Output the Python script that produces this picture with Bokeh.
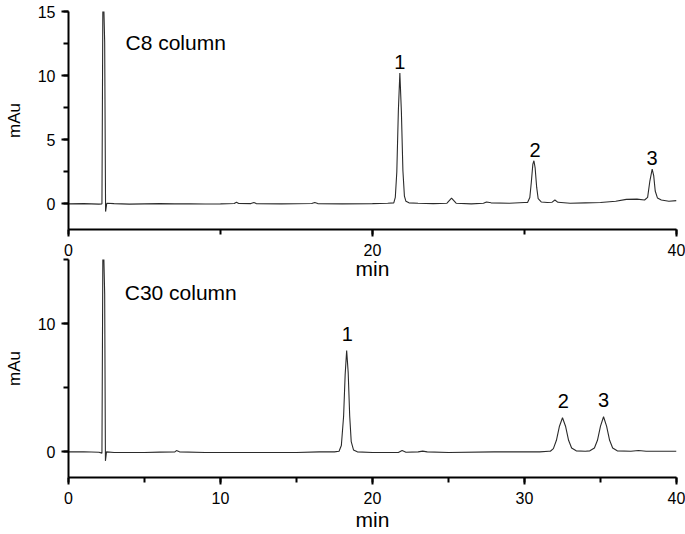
from bokeh.plotting import figure
from bokeh.layouts import column
from bokeh.models import Range1d, SingleIntervalTicker, Label, ColumnDataSource
from bokeh.embed import file_html
from bokeh.resources import INLINE
from bokeh.core.properties import value

# ---- C8 column trace (time in min, signal in mAu) ----
c8_time = [0.0, 1.0, 2.0, 2.2, 2.27, 2.38, 2.44, 2.52, 3.0, 4.0, 5.0, 6.0, 7.0, 8.0, 9.0, 10.0,
           10.9, 11.05, 11.2, 12.0, 12.2, 12.35, 14.0, 16.0, 16.2, 16.4, 18.0, 20.0, 21.0,
           21.4, 21.5, 21.6, 21.7, 21.8, 21.9, 22.0, 22.1, 22.2, 22.4,
           23.0, 24.0, 24.9, 25.2, 25.5, 26.5, 27.3, 27.5, 27.8, 29.0, 30.0,
           30.2, 30.35, 30.45, 30.55, 30.62, 30.7, 30.8, 30.9, 31.1,
           31.5, 31.8, 32.0, 32.2, 33.0, 34.0, 35.0, 36.0, 36.7, 37.4, 37.9,
           38.1, 38.25, 38.4, 38.5, 38.6, 38.75, 39.0, 39.5, 40.0]
c8_signal = [0.0, 0.02, -0.02, 0.0, 18.0, 12.6, -0.6, 0.05, 0.02, -0.02, 0.0, 0.02, 0.0, 0.01, -0.01, 0.0,
             0.03, 0.12, 0.03, 0.02, 0.1, 0.02, 0.0, 0.03, 0.1, 0.02, 0.0, 0.02, 0.05,
             0.08, 0.5, 2.5, 7.2, 10.2, 7.2, 2.6, 0.6, 0.2, 0.08,
             0.05, 0.02, 0.05, 0.45, 0.05, 0.0, 0.05, 0.15, 0.08, 0.05, 0.1,
             0.1, 0.5, 1.7, 3.1, 3.36, 2.8, 1.3, 0.4, 0.15,
             0.1, 0.12, 0.3, 0.12, 0.05, 0.08, 0.1, 0.2, 0.35, 0.37, 0.3,
             0.5, 1.8, 2.7, 2.2, 1.0, 0.45, 0.3, 0.2, 0.25]

# ---- C30 column trace ----
c30_time = [0.0, 1.0, 2.0, 2.2, 2.27, 2.38, 2.43, 2.5, 3.0, 4.0, 5.0, 6.0, 7.0, 7.1, 7.3, 9.0, 12.0,
            15.0, 16.5, 17.5,
            17.8, 17.95, 18.1, 18.2, 18.3, 18.4, 18.5, 18.6, 18.75, 19.0,
            20.0, 21.7, 21.95, 22.2, 23.0, 23.3, 23.6, 25.0, 28.0, 31.0, 31.6,
            31.7, 31.9, 32.1, 32.3, 32.5, 32.7, 32.9, 33.1, 33.4, 34.0,
            34.3, 34.6, 34.8, 35.0, 35.2, 35.4, 35.6, 35.8, 36.1, 37.0, 37.5, 38.0, 40.0]
c30_signal = [0.0, 0.01, -0.03, -0.1, 18.0, 12.3, -0.7, 0.0, -0.05, -0.05, -0.05, -0.02, 0.0, 0.1, 0.0, -0.05, -0.05,
              -0.05, 0.0, 0.0,
              0.05, 0.5, 2.8, 6.0, 7.9, 6.2, 2.8, 0.8, 0.15, 0.0,
              -0.05, -0.05, 0.1, -0.03, 0.0, 0.06, 0.0, -0.05, 0.0, 0.0, 0.05,
              0.05, 0.25, 0.9, 2.0, 2.66, 2.0, 0.9, 0.3, 0.08, 0.05,
              0.08, 0.3, 0.9, 2.0, 2.74, 2.0, 0.9, 0.3, 0.08, 0.05, 0.1, 0.05, 0.05]

# ---- peak annotations ----
peak_names = ["1", "2", "3"]
c8_peak_time = [21.8, 30.7, 38.4]
c8_peak_height = [10.2, 3.36, 2.7]
c30_peak_time = [18.35, 32.55, 35.2]
c30_peak_height = [7.9, 2.66, 2.74]

FONT = "Liberation Sans"


def make_panel(t, s, pk_t, pk_h, name, x_interval, y_interval, height, top, bottom,
               label_offset, name_x, name_y, xlabel_standoff):
    p = figure(width=685, height=height, output_backend="svg", toolbar_location=None,
               x_range=Range1d(0, 40), y_range=Range1d(-2, 15),
               min_border_left=68, min_border_right=9, min_border_top=top,
               min_border_bottom=bottom, x_axis_label="min", y_axis_label="mAu")
    p.outline_line_color = None
    p.background_fill_color = None
    p.border_fill_color = None
    p.xgrid.visible = False
    p.ygrid.visible = False
    p.xaxis.ticker = SingleIntervalTicker(interval=x_interval, num_minor_ticks=2)
    p.yaxis.ticker = SingleIntervalTicker(interval=y_interval, num_minor_ticks=2)
    for ax in (p.xaxis, p.yaxis):
        ax.axis_line_width = 2
        ax.axis_line_color = "black"
        ax.major_tick_line_width = 2
        ax.minor_tick_line_width = 2
        ax.major_tick_line_color = "black"
        ax.minor_tick_line_color = "black"
        ax.major_tick_in = 0
        ax.minor_tick_in = 0
        ax.major_tick_out = 7
        ax.minor_tick_out = 5
        ax.major_label_text_font = FONT
        ax.major_label_text_font_size = "16px"
        ax.major_label_text_color = "black"
        ax.major_label_standoff = 6
        ax.axis_label_text_font = FONT
        ax.axis_label_text_font_style = "normal"
        ax.axis_label_text_color = "black"
    p.xaxis.major_label_standoff = 7
    p.xaxis.axis_label_text_font_size = "21px"
    p.xaxis.axis_label_standoff = xlabel_standoff
    p.yaxis.axis_label_text_font_size = "17px"
    p.yaxis.axis_label_standoff = 11

    p.line(t, s, line_color="#2b2b2b", line_width=1.1)

    src = ColumnDataSource(dict(x=pk_t, y=pk_h, text=peak_names))
    p.text(x="x", y="y", text="text", source=src, text_align="center",
           text_baseline="bottom", y_offset=label_offset,
           text_font=value(FONT), text_font_size="20px", text_color="black")

    p.add_layout(Label(x=name_x, y=name_y, text=name, text_font=FONT,
                       text_font_size="21px", text_color="black",
                       text_baseline="bottom"))
    return p


p1 = make_panel(c8_time, c8_signal, c8_peak_time, c8_peak_height, "C8 column",
                20, 5, 285, 11, 56, -4, 3.75, 11.7, -2)
p2 = make_panel(c30_time, c30_signal, c30_peak_time, c30_peak_height, "C30 column",
                10, 10, 279, 4, 57, -10, 3.7, 11.55, 1)
p2.margin = (-30, 0, 0, 0)

layout = column(p1, p2)
with open("out.html", "w") as f:
    f.write(file_html(layout, INLINE))
